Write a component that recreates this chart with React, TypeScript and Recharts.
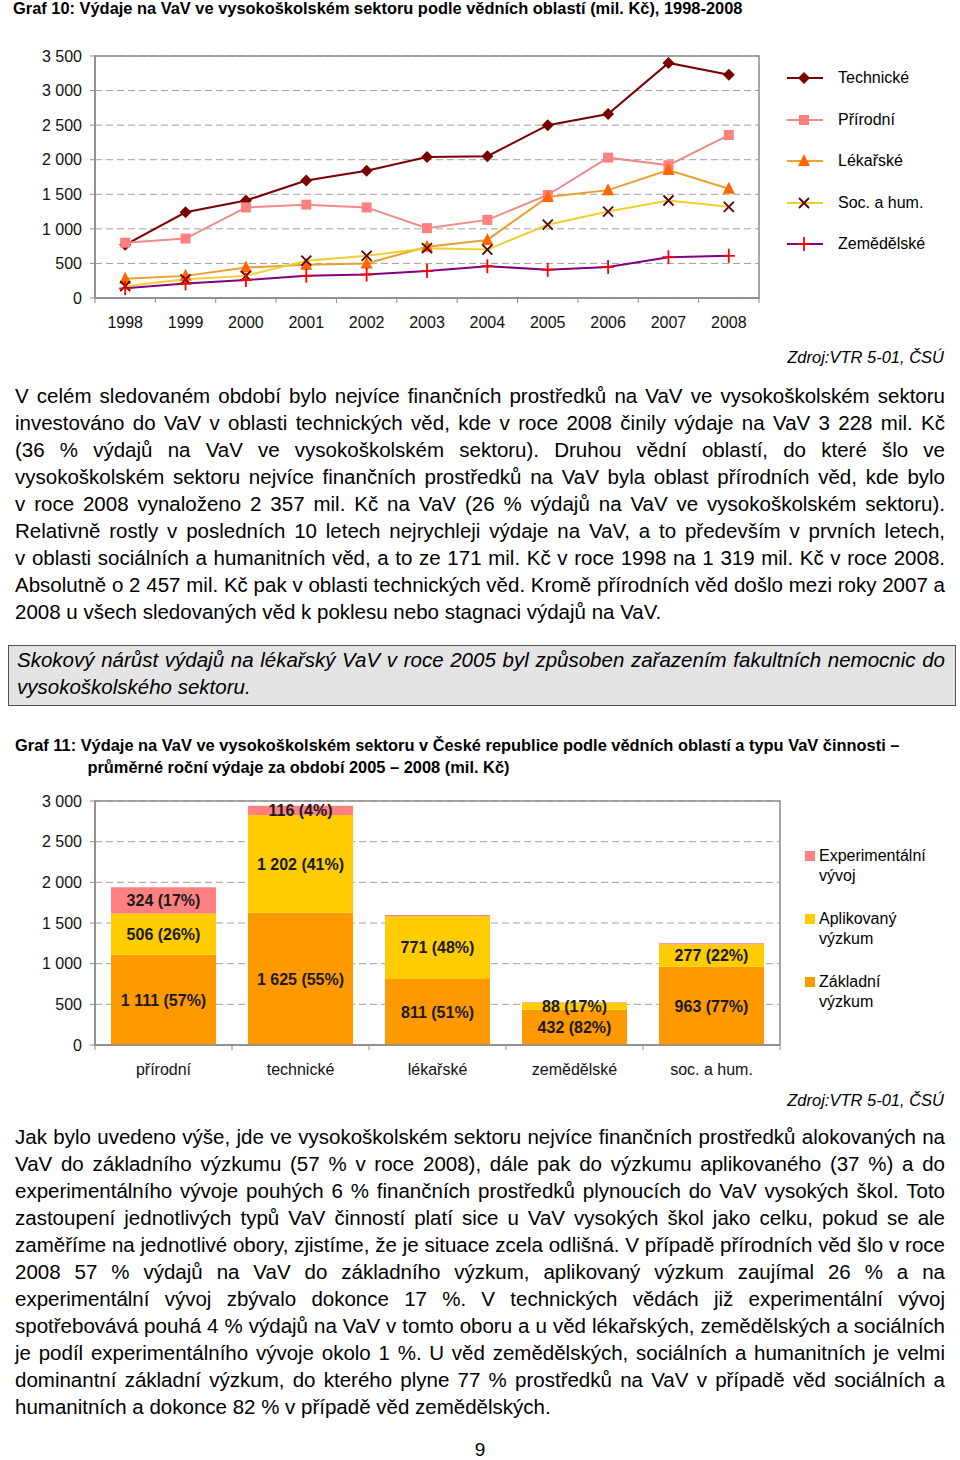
import React from "react";
import {
  LineChart,
  Line,
  BarChart,
  Bar,
  XAxis,
  YAxis,
  CartesianGrid,
  ReferenceArea,
  LabelList,
} from "recharts";

// ---- Graf 10 data (mil. Kč) ----
const years = ["1998", "1999", "2000", "2001", "2002", "2003", "2004", "2005", "2006", "2007", "2008"];
const technicke = [770, 1240, 1410, 1700, 1840, 2040, 2050, 2500, 2660, 3400, 3228];
const prirodni = [800, 860, 1310, 1350, 1310, 1010, 1130, 1490, 2030, 1920, 2357];
const lekarske = [280, 320, 440, 480, 500, 740, 840, 1460, 1560, 1850, 1580];
const socHum = [171, 270, 320, 540, 610, 720, 700, 1060, 1250, 1410, 1319];
const zemedelske = [140, 210, 260, 320, 340, 390, 460, 410, 450, 590, 610];
const lineTicks = [0, 500, 1000, 1500, 2000, 2500, 3000, 3500];

// ---- Graf 11 data (mil. Kč, průměr 2005-2008) ----
const oblasti = ["přírodní", "technické", "lékařské", "zemědělské", "soc. a hum."];
const zakladni = [1111, 1625, 811, 432, 963];
const aplikovany = [506, 1202, 771, 88, 277];
const experimentalni = [324, 116, 16, 5, 10];
const barTicks = [0, 500, 1000, 1500, 2000, 2500, 3000];

const FONT = "'Liberation Sans', Arial, sans-serif";
const AXIS = "#8c8c8c";
const BODY_SIZE = 20.5;

const fmt = (n: number) => String(n).replace(/\B(?=(\d{3})+(?!\d))/g, " ");

const lineSeries = [
  { key: "technicke", name: "Technické", values: technicke, stroke: "#7a0000", mark: "diamond", markColor: "#7a0000" },
  { key: "prirodni", name: "Přírodní", values: prirodni, stroke: "#f08a8a", mark: "square", markColor: "#ff8080" },
  { key: "lekarske", name: "Lékařské", values: lekarske, stroke: "#e8a030", mark: "triangle", markColor: "#ff6600" },
  { key: "socHum", name: "Soc. a hum.", values: socHum, stroke: "#f0d030", mark: "x", markColor: "#5a0000" },
  { key: "zemedelske", name: "Zemědělské", values: zemedelske, stroke: "#800080", mark: "plus", markColor: "#ff0000" },
];

const lineData = years.map((year, i) => {
  const row: Record<string, string | number> = { year };
  lineSeries.forEach((s) => (row[s.key] = s.values[i]));
  return row;
});

const barData = oblasti.map((name, i) => ({
  name,
  zakladni: zakladni[i],
  aplikovany: aplikovany[i],
  experimentalni: experimentalni[i],
}));

const barSeries = [
  { key: "zakladni", name: "Základní výzkum", values: zakladni, fill: "#ff9900" },
  { key: "aplikovany", name: "Aplikovaný výzkum", values: aplikovany, fill: "#ffcc00" },
  { key: "experimentalni", name: "Experimentální vývoj", values: experimentalni, fill: "#ff8080" },
];

function Marker({ cx, cy, kind, color }: { cx: number; cy: number; kind: string; color: string }) {
  if (cx == null || cy == null) return null;
  switch (kind) {
    case "diamond":
      return <polygon points={`${cx},${cy - 6} ${cx + 6},${cy} ${cx},${cy + 6} ${cx - 6},${cy}`} fill={color} />;
    case "square":
      return <rect x={cx - 5} y={cy - 5} width={10} height={10} fill={color} />;
    case "triangle":
      return <polygon points={`${cx},${cy - 7} ${cx + 6},${cy + 5} ${cx - 6},${cy + 5}`} fill={color} />;
    case "x":
      return (
        <path d={`M${cx - 5},${cy - 5}L${cx + 5},${cy + 5}M${cx + 5},${cy - 5}L${cx - 5},${cy + 5}`} stroke={color} strokeWidth={1.8} />
      );
    default:
      return <path d={`M${cx - 6},${cy}H${cx + 6}M${cx},${cy - 7}V${cy + 7}`} stroke={color} strokeWidth={1.8} />;
  }
}

// category ticks: label at band centre, tick marks on band boundaries
function makeCatTick(step: number, count: number) {
  return (props: any) => {
    const { x, y, payload, index } = props;
    return (
      <g>
        <line x1={x - step / 2} x2={x - step / 2} y1={y} y2={y + 5} stroke={AXIS} />
        {index === count - 1 && <line x1={x + step / 2} x2={x + step / 2} y1={y} y2={y + 5} stroke={AXIS} />}
        <text x={x} y={y + 24} dy="0.36em" textAnchor="middle" fontSize={16} fontFamily={FONT} fill="#111">
          {payload.value}
        </text>
      </g>
    );
  };
}

function TextLine({ y, children, justify = true, italic = false, left = 15, width = 930 }: any) {
  return (
    <div
      style={{
        position: "absolute",
        left,
        width,
        top: y - 13.5,
        height: 27,
        lineHeight: "27px",
        fontSize: BODY_SIZE,
        fontFamily: FONT,
        fontStyle: italic ? "italic" : "normal",
        color: "#000",
        whiteSpace: "nowrap",
        textAlign: justify ? "justify" : "left",
        textAlignLast: justify ? "justify" : "left",
      }}
    >
      {children}
    </div>
  );
}

function Title({ top, left, children }: any) {
  return (
    <div
      style={{
        position: "absolute",
        left,
        top,
        fontFamily: FONT,
        fontWeight: "bold",
        fontSize: 17,
        lineHeight: "22px",
        whiteSpace: "nowrap",
        transform: "scaleX(0.965)",
        transformOrigin: "0 0",
      }}
    >
      {children}
    </div>
  );
}

const para1 = [
  "V celém sledovaném období bylo nejvíce finančních prostředků na VaV ve vysokoškolském sektoru",
  "investováno do VaV v oblasti technických věd, kde v roce 2008 činily výdaje na VaV 3 228 mil. Kč",
  "(36 % výdajů na VaV ve vysokoškolském sektoru). Druhou vědní oblastí, do které šlo ve",
  "vysokoškolském sektoru nejvíce finančních prostředků na VaV byla oblast přírodních věd, kde bylo",
  "v roce 2008 vynaloženo 2 357 mil. Kč na VaV (26 % výdajů na VaV ve vysokoškolském sektoru).",
  "Relativně rostly v posledních 10 letech nejrychleji výdaje na VaV, a to především v prvních letech,",
  "v oblasti sociálních a humanitních věd, a to ze 171 mil. Kč v roce 1998 na 1 319 mil. Kč v roce 2008.",
  "Absolutně o 2 457 mil. Kč pak v oblasti technických věd. Kromě přírodních věd došlo mezi roky 2007 a",
  "2008 u všech sledovaných věd k poklesu nebo stagnaci výdajů na VaV.",
];

const para2 = [
  "Jak bylo uvedeno výše, jde ve vysokoškolském sektoru nejvíce finančních prostředků alokovaných na",
  "VaV do základního výzkumu (57 % v roce 2008), dále pak do výzkumu aplikovaného (37 %) a do",
  "experimentálního vývoje pouhých 6 % finančních prostředků plynoucích do VaV vysokých škol. Toto",
  "zastoupení jednotlivých typů VaV činností platí sice u VaV vysokých škol jako celku, pokud se ale",
  "zaměříme na jednotlivé obory, zjistíme, že je situace zcela odlišná. V případě přírodních věd šlo v roce",
  "2008 57 % výdajů na VaV do základního výzkum, aplikovaný výzkum zaujímal 26 % a na",
  "experimentální vývoj zbývalo dokonce 17 %. V technických vědách již experimentální vývoj",
  "spotřebovává pouhá 4 % výdajů na VaV v tomto oboru a u věd lékařských, zemědělských a sociálních",
  "je podíl experimentálního vývoje okolo 1 %. U věd zemědělských, sociálních a humanitních je velmi",
  "dominantní základní výzkum, do kterého plyne 77 % prostředků na VaV v případě věd sociálních a",
  "humanitních a dokonce 82 % v případě věd zemědělských.",
];

function LineLegend() {
  return (
    <div style={{ position: "absolute", left: 785, top: 66, fontFamily: FONT, fontSize: 16, color: "#000" }}>
      {lineSeries.map((s, i) => (
        <div key={s.key} style={{ position: "absolute", top: i * 41.5, left: 0, height: 24, width: 170, display: "flex", alignItems: "center" }}>
          <svg width={40} height={24} style={{ flex: "none" }}>
            <line x1={2} x2={38} y1={12} y2={12} stroke={s.stroke} strokeWidth={2} />
            <Marker cx={19} cy={12} kind={s.mark} color={s.markColor} />
          </svg>
          <span style={{ marginLeft: 13, whiteSpace: "nowrap" }}>{s.name}</span>
        </div>
      ))}
    </div>
  );
}

function BarLegend() {
  const items = [...barSeries].reverse();
  const tops = [846, 909, 972];
  return (
    <div style={{ position: "absolute", left: 805, top: 0, fontFamily: FONT, fontSize: 16, color: "#000" }}>
      {items.map((s, i) => {
        const [first, ...rest] = s.name.split(" ");
        return (
          <div key={s.key} style={{ position: "absolute", top: tops[i], left: 0, width: 150, lineHeight: "19.5px" }}>
            <span style={{ position: "absolute", left: 0, top: 5, width: 10, height: 10, background: s.fill }} />
            <div style={{ marginLeft: 14 }}>{first}</div>
            <div style={{ marginLeft: 14 }}>{rest.join(" ")}</div>
          </div>
        );
      })}
    </div>
  );
}

function SegmentLabel(values: number[]) {
  return (props: any) => {
    const { x, y, width, height, index } = props;
    const total = barSeries.reduce((acc, s) => acc + s.values[index], 0);
    const v = values[index];
    const pct = Math.round((v / total) * 100);
    if (pct < 2) return null;
    return (
      <text
        x={x + width / 2}
        y={y + height / 2}
        dy="0.36em"
        textAnchor="middle"
        fontSize={16}
        fontWeight="bold"
        fontFamily={FONT}
        fill="#1a1a1a"
      >
        {`${fmt(v)} (${pct}%)`}
      </text>
    );
  };
}

export default function App() {
  const lineStep = 664 / years.length;
  const barStep = 685 / oblasti.length;
  return (
    <div style={{ position: "absolute", left: 0, top: 0, width: 960, height: 1460, background: "#fff", fontFamily: FONT }}>
      <Title top={-2} left={13}>
        Graf 10: Výdaje na VaV ve vysokoškolském sektoru podle vědních oblastí (mil. Kč), 1998-2008
      </Title>

      <div style={{ position: "absolute", left: 0, top: 40 }}>
        <LineChart width={960} height={310} data={lineData} margin={{ top: 16, right: 201, bottom: 22, left: 10 }}>
          <CartesianGrid vertical={false} stroke="#a0a0a0" strokeDasharray="7 4" />
          <ReferenceArea y1={0} y2={3500} fill="none" stroke={AXIS} strokeWidth={1.5} />
          <XAxis
            dataKey="year"
            scale="band"
            height={30}
            axisLine={{ stroke: AXIS, strokeWidth: 1.5 }}
            tickLine={false}
            tickSize={0}
            tickMargin={0}
            interval={0}
            tick={makeCatTick(lineStep, years.length)}
          />
          <YAxis
            width={85}
            domain={[0, 3500]}
            ticks={lineTicks}
            tickFormatter={fmt}
            axisLine={{ stroke: AXIS, strokeWidth: 1.5 }}
            tickLine={{ stroke: AXIS }}
            tickSize={5}
            tickMargin={8}
            tick={{ fontSize: 16, fontFamily: FONT, fill: "#111" }}
          />
          {lineSeries.map((s) => (
            <Line
              key={s.key}
              dataKey={s.key}
              name={s.name}
              stroke={s.stroke}
              strokeWidth={2}
              isAnimationActive={false}
              dot={(p: any) => <Marker key={`${s.key}-${p.index}`} cx={p.cx} cy={p.cy} kind={s.mark} color={s.markColor} />}
              activeDot={false}
            />
          ))}
        </LineChart>
      </div>
      <LineLegend />

      <div
        style={{
          position: "absolute",
          right: 16,
          top: 347,
          fontSize: 16.5,
          fontStyle: "italic",
          lineHeight: "20px",
        }}
      >
        Zdroj:VTR 5-01, ČSÚ
      </div>

      {para1.map((t, i) => (
        <TextLine key={i} y={395 + i * 27} justify={i < para1.length - 1}>
          {t}
        </TextLine>
      ))}

      <div
        style={{
          position: "absolute",
          left: 8,
          top: 645,
          width: 946,
          height: 59,
          background: "#e4e4e4",
          border: "1.5px solid #505050",
        }}
      />
      <TextLine y={659} italic left={17} width={928}>
        Skokový nárůst výdajů na lékařský VaV v roce 2005 byl způsoben zařazením fakultních nemocnic do
      </TextLine>
      <TextLine y={686} italic left={17} width={928} justify={false}>
        vysokoškolského sektoru.
      </TextLine>

      <Title top={735} left={15}>
        <div>Graf 11: Výdaje na VaV ve vysokoškolském sektoru v České republice podle vědních oblastí a typu VaV činnosti –</div>
        <div style={{ marginLeft: 75 }}>průměrné roční výdaje za období 2005 – 2008 (mil. Kč)</div>
      </Title>

      <div style={{ position: "absolute", left: 0, top: 790 }}>
        <BarChart width={960} height={300} data={barData} margin={{ top: 11, right: 180, bottom: 15, left: 10 }} barCategoryGap={16}>
          <CartesianGrid vertical={false} stroke="#a0a0a0" strokeDasharray="7 4" />
          <ReferenceArea y1={0} y2={3000} fill="none" stroke={AXIS} strokeWidth={1.5} />
          <XAxis
            dataKey="name"
            height={30}
            axisLine={{ stroke: AXIS, strokeWidth: 1.5 }}
            tickLine={false}
            tickSize={0}
            tickMargin={0}
            interval={0}
            tick={makeCatTick(barStep, oblasti.length)}
          />
          <YAxis
            width={85}
            domain={[0, 3000]}
            ticks={barTicks}
            tickFormatter={fmt}
            axisLine={{ stroke: AXIS, strokeWidth: 1.5 }}
            tickLine={{ stroke: AXIS }}
            tickSize={5}
            tickMargin={8}
            tick={{ fontSize: 16, fontFamily: FONT, fill: "#111" }}
          />
          {barSeries.map((s) => (
            <Bar key={s.key} dataKey={s.key} name={s.name} stackId="a" fill={s.fill} isAnimationActive={false}>
              <LabelList dataKey={s.key} content={SegmentLabel(s.values)} />
            </Bar>
          ))}
        </BarChart>
      </div>
      <BarLegend />

      <div
        style={{
          position: "absolute",
          right: 16,
          top: 1090,
          fontSize: 16.5,
          fontStyle: "italic",
          lineHeight: "20px",
        }}
      >
        Zdroj:VTR 5-01, ČSÚ
      </div>

      {para2.map((t, i) => (
        <TextLine key={i} y={1136 + i * 27} justify={i < para2.length - 1}>
          {t}
        </TextLine>
      ))}

      <div style={{ position: "absolute", left: 0, width: 960, top: 1436, textAlign: "center", fontSize: 19, lineHeight: "27px" }}>
        9
      </div>
    </div>
  );
}
